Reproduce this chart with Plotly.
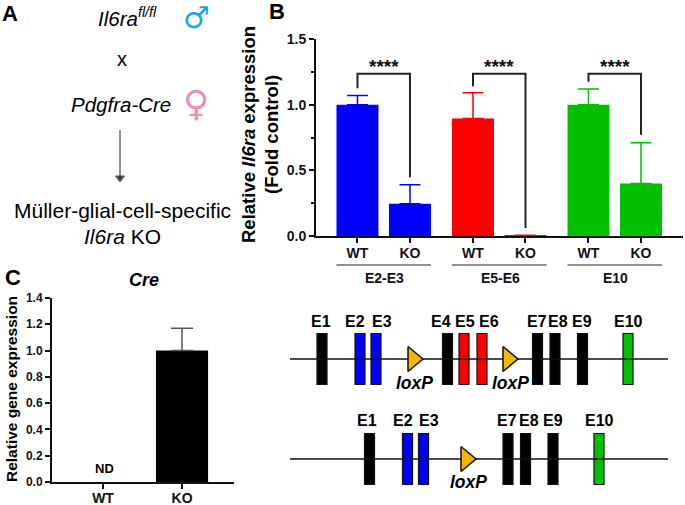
import plotly.graph_objects as go

# panel B
groups = ["E2-E3", "E5-E6", "E10"]
group_colors = ["#0000FF", "#FF0000", "#00C000"]
sample_labels = ["WT", "KO"]
wt_values = [1.0, 0.895, 1.0]
ko_values = [0.245, 0.003, 0.4]
wt_err = [0.07, 0.195, 0.12]
ko_err = [0.145, 0.002, 0.31]
wt_pos = [0, 2.2, 4.4]
ko_pos = [1, 3.2, 5.4]
bracket_top = 1.235
bracket_wt_end = [1.125, 1.14, 1.175]
bracket_ko_end = [0.447, 0.06, 0.77]

# panel C, WT is not detected
cre_labels = ["WT", "KO"]
cre_values = [None, 1.0]
cre_err = [None, 0.17]

# gene diagram, axis units are picture pixels
top_exons = ["E1", "E2", "E3", "E4", "E5", "E6", "E7", "E8", "E9", "E10"]
top_exon_x = [322, 360, 376, 447.5, 464, 482, 537.5, 555, 582.5, 628]
top_label_x = [321, 355, 382, 441, 465, 489, 537, 558, 582, 628]
top_colors = ["black", "#0000FF", "#0000FF", "black", "#FF0000", "#FF0000",
              "black", "black", "black", "#00C000"]
top_loxp = [416, 511]
bottom_exons = ["E1", "E2", "E3", "E7", "E8", "E9", "E10"]
bottom_exon_x = [369.5, 407.5, 423.5, 508, 525.5, 553, 599]
bottom_label_x = [367, 403, 429, 507, 529, 553, 599]
bottom_colors = ["black", "#0000FF", "#0000FF", "black", "black", "black", "#00C000"]
bottom_loxp = [469]

FONT = "Liberation Sans"
INK = "#111111"
W, H = 685, 505

fig = go.Figure()

for i, name in enumerate(groups):
    fig.add_trace(go.Bar(
        x=[wt_pos[i], ko_pos[i]], y=[wt_values[i], ko_values[i]], width=0.8,
        marker=dict(color=group_colors[i], line=dict(width=0)), name=name,
        error_y=dict(type="data", symmetric=False, array=[wt_err[i], ko_err[i]],
                     arrayminus=[0, 0], color=group_colors[i], thickness=1.5, width=10.5),
        xaxis="x", yaxis="y"))
    fig.add_trace(go.Scatter(
        x=[wt_pos[i], wt_pos[i], ko_pos[i], ko_pos[i]],
        y=[bracket_wt_end[i], bracket_top, bracket_top, bracket_ko_end[i]],
        mode="lines", line=dict(color="#222222", width=2), xaxis="x", yaxis="y"))

fig.add_trace(go.Bar(
    x=[0, 1], y=cre_values, width=0.66, marker=dict(color="black", line=dict(width=0)),
    error_y=dict(type="data", symmetric=False, array=cre_err, arrayminus=[None, 0],
                 color="#555555", thickness=1.5, width=11),
    xaxis="x2", yaxis="y2"))


def add_gene(exon_x, colors, top, height, line_y, loxp):
    fig.add_trace(go.Scatter(x=[290, 668], y=[line_y, line_y], mode="lines",
                             line=dict(color="#111111", width=1.5), xaxis="x3", yaxis="y3"))
    fig.add_trace(go.Bar(x=exon_x, y=[height] * len(exon_x), base=top, width=10,
                         marker=dict(color=colors, line=dict(color="#111111", width=1.2)),
                         xaxis="x3", yaxis="y3"))
    for cx in loxp:
        fig.add_trace(go.Scatter(
            x=[cx - 8, cx - 8, cx + 7, cx - 8],
            y=[line_y - 12.5, line_y + 12.5, line_y, line_y - 12.5],
            mode="lines", fill="toself", fillcolor="#F5B50A",
            line=dict(color="#111111", width=1.5), xaxis="x3", yaxis="y3"))


add_gene(top_exon_x, top_colors, 333.5, 51, 359, top_loxp)
add_gene(bottom_exon_x, bottom_colors, 433.5, 51, 459, bottom_loxp)

# arrow of panel A
fig.add_trace(go.Scatter(x=[120, 120], y=[130, 178], mode="lines+markers",
                         line=dict(color="#222222", width=1),
                         marker=dict(symbol="triangle-down", size=[0, 8], color="#000000"),
                         xaxis="x3", yaxis="y3"))

annotations = []


def label(text, x, y, size, bold=False, color="black", family=FONT, angle=0):
    annotations.append(dict(
        text=text, x=x, y=y, xref="x3", yref="y3", showarrow=False, textangle=angle,
        font=dict(family=family, size=size, color=color, weight="bold" if bold else "normal")))


label("A", 10, 13, 22, True)
label("B", 277, 11, 22, True)
label("C", 13, 277, 22, True)

label("<i>Il6ra<sup>fl/fl</sup></i>", 127, 17, 20.5)
label("x", 122, 59, 20)
label("<i>Pdgfra-Cre</i>", 121, 104, 20.5)
label("Müller-glial-cell-specific", 122, 210, 21)
label("<i>Il6ra</i> KO", 122, 236, 21)
label("♂", 196, 17, 30, color="#1AA7E8", family="DejaVu Sans")
label("♀", 196, 103, 36, color="#F08CB8", family="DejaVu Sans")

label("Relative <i>Il6ra</i> expression", 248, 135, 18.5, True, angle=-90)
label("(Fold control)", 271, 135, 18.5, True, angle=-90)
label("Relative gene expression", 11, 389, 15.5, True, angle=-90)
label("<i>Cre</i>", 144, 280, 18, True)
label("ND", 104, 468, 13, True)

for i, name in enumerate(groups):
    annotations.append(dict(text="****", x=(wt_pos[i] + ko_pos[i]) / 2, y=1.29, xref="x", yref="y",
                            showarrow=False,
                            font=dict(family=FONT, size=19, color=INK, weight="bold")))
    annotations.append(dict(text=name, x=(wt_pos[i] + ko_pos[i]) / 2 + 0.02, y=1 - 278 / H,
                            xref="x", yref="paper", showarrow=False,
                            font=dict(family=FONT, size=14, color=INK, weight="bold")))

for names, xs, y in [(top_exons, top_label_x, 321), (bottom_exons, bottom_label_x, 420)]:
    for name, x in zip(names, xs):
        label(name, x, y, 16, True)
for x, y in [(414, 383), (510, 383), (468, 482)]:
    label("<i>loxP</i>", x, y, 17.5, True)

shapes = [dict(type="line", xref="x", yref="paper", x0=wt_pos[i] - 0.4, x1=ko_pos[i] + 0.4,
               y0=1 - 265 / H, y1=1 - 265 / H, line=dict(color="#222222", width=1))
          for i in range(len(groups))]

axis_style = dict(showgrid=False, zeroline=False, showline=True, linecolor=INK, linewidth=2,
                  ticks="outside", ticklen=5, tickwidth=2, tickcolor=INK, automargin=False)
bold14 = dict(family=FONT, size=14, color=INK, weight="bold")
bold12 = dict(family=FONT, size=12, color=INK, weight="bold")

fig.update_layout(
    template="none",
    width=W, height=H, margin=dict(l=0, r=0, t=0, b=0), showlegend=False,
    paper_bgcolor="white", plot_bgcolor="rgba(0,0,0,0)", barmode="overlay",
    annotations=annotations, shapes=shapes,
    xaxis=dict(domain=[316 / W, 683 / W], range=[-0.79, 6.2], anchor="y",
               tickvals=wt_pos + ko_pos, ticktext=[sample_labels[0]] * 3 + [sample_labels[1]] * 3,
               tickfont=bold14, ticklabelstandoff=-2, **axis_style),
    yaxis=dict(domain=[1 - 236 / H, 1 - 39 / H], range=[0, 1.5], anchor="x",
               tickvals=[0, 0.5, 1.0, 1.5], tickformat=".1f", tickfont=bold14,
               minor=dict(tickvals=[0.25, 0.75, 1.25], ticks="outside", ticklen=3,
                          tickwidth=2, tickcolor=INK),
               **axis_style),
    xaxis2=dict(domain=[52 / W, 234 / W], range=[-0.646, 1.658], anchor="y2",
                tickvals=[0, 1], ticktext=cre_labels, tickfont=bold14, ticklabelstandoff=-3,
                **axis_style),
    yaxis2=dict(domain=[1 - 482 / H, 1 - 298 / H], range=[0, 1.4], anchor="x2",
                dtick=0.2, tickformat=".1f", tickfont=bold12, **axis_style),
    xaxis3=dict(domain=[0, 1], range=[0, W], anchor="y3", visible=False),
    yaxis3=dict(domain=[0, 1], range=[H, 0], anchor="x3", visible=False),
)

fig.write_html("out.html", config=dict(displayModeBar=False),
               post_script="document.body.style.margin='0';")
